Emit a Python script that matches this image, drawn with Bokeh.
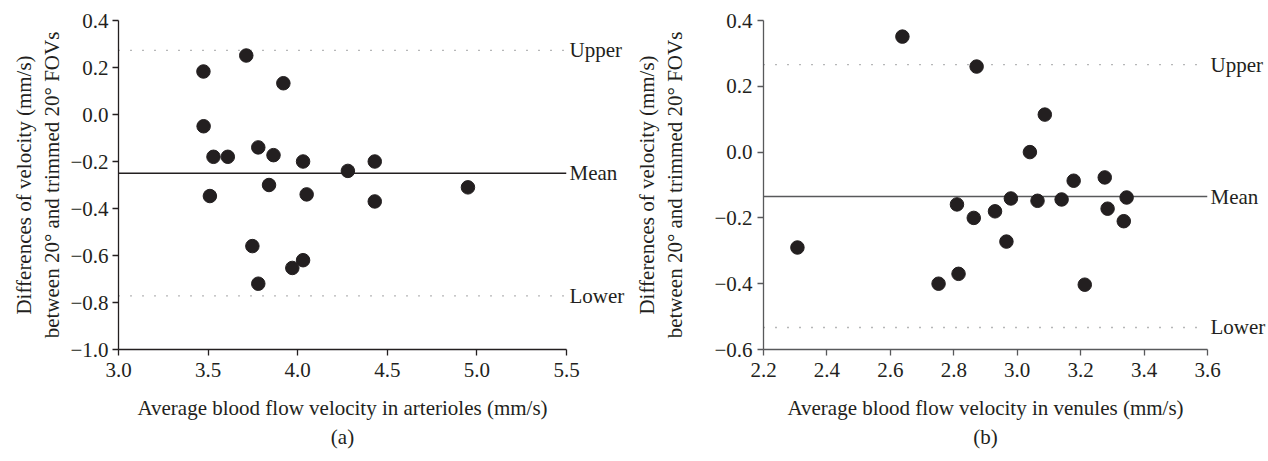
from bokeh.plotting import figure
from bokeh.layouts import row
from bokeh.models import (Range1d, FixedTicker, CustomJSTickFormatter, LinearAxis,
                          Title, ColumnDataSource)
from bokeh.embed import file_html
from bokeh.resources import INLINE

# ---------------- data ----------------
# (a) arterioles
art_mean_vel = [3.474, 3.713, 3.92, 3.475, 3.53, 3.61, 3.78, 3.865, 4.03, 4.43,
                4.28, 3.51, 3.84, 4.05, 4.43, 4.95, 3.747, 4.03, 3.97, 3.78]
art_diff = [0.183, 0.251, 0.133, -0.05, -0.18, -0.18, -0.14, -0.173, -0.20, -0.20,
            -0.24, -0.347, -0.30, -0.34, -0.37, -0.31, -0.56, -0.62, -0.653, -0.72]
limit_names = ["Upper", "Mean", "Lower"]
art_limits = [0.273, -0.25, -0.772]
art_xticks = [3.0, 3.5, 4.0, 4.5, 5.0, 5.5]
art_yticks = [-1.0, -0.8, -0.6, -0.4, -0.2, 0.0, 0.2, 0.4]

# (b) venules
ven_mean_vel = [2.638, 2.307, 2.752, 2.872, 3.087, 3.04, 3.178, 3.276, 2.98, 3.064,
                3.14, 3.345, 2.81, 2.863, 2.93, 3.285, 3.336, 2.966, 2.815, 3.213]
ven_diff = [0.351, -0.29, -0.40, 0.26, 0.114, 0.0, -0.087, -0.077, -0.141, -0.148,
            -0.144, -0.138, -0.159, -0.20, -0.18, -0.172, -0.21, -0.272, -0.37, -0.403]
ven_limits = [0.266, -0.135, -0.533]
ven_xticks = [2.2, 2.4, 2.6, 2.8, 3.0, 3.2, 3.4, 3.6]
ven_yticks = [-0.6, -0.4, -0.2, 0.0, 0.2, 0.4]

y_label = "Differences of velocity (mm/s)\nbetween 20\u00b0 and trimmed 20\u00b0 FOVs"
x_label_a = "Average blood flow velocity in arterioles (mm/s)"
x_label_b = "Average blood flow velocity in venules (mm/s)"

FONT = "Liberation Serif"
TXT = "#231f20"
FS = "21px"

fmt = CustomJSTickFormatter(code="return tick.toFixed(1).replace('-', '\\u2212');")


def make_panel(xs, ys, limits, xticks, yticks, xlabel, panel, width, left,
               right, top, axis_color, mean_color, ylab_standoff, ytick_standoff):
    p = figure(width=width, height=461, output_backend="svg", toolbar_location=None,
               x_range=Range1d(xticks[0], xticks[-1]),
               y_range=Range1d(yticks[0], yticks[-1]),
               min_border_left=left, min_border_right=right, min_border_top=top,
               min_border_bottom=461 - 349)
    p.outline_line_color = None
    p.xgrid.visible = False
    p.ygrid.visible = False
    p.background_fill_color = "white"
    p.border_fill_color = "white"

    for ax, ticks in ((p.xaxis[0], xticks), (p.yaxis[0], yticks)):
        ax.ticker = FixedTicker(ticks=ticks)
        ax.formatter = fmt
        ax.axis_line_color = axis_color
        ax.axis_line_width = 1.3
        ax.major_tick_line_color = axis_color
        ax.major_tick_line_width = 1.3
        ax.major_tick_out = 6
        ax.major_tick_in = 0
        ax.minor_tick_line_color = None
        ax.major_label_text_font = FONT
        ax.major_label_text_font_size = FS
        ax.major_label_text_color = TXT
        ax.axis_label_text_font = FONT
        ax.axis_label_text_font_size = FS
        ax.axis_label_text_font_style = "normal"
        ax.axis_label_text_color = TXT

    p.xaxis.axis_label = xlabel
    p.yaxis.axis_label = y_label
    p.xaxis.major_label_standoff = 7
    p.xaxis.axis_label_standoff = 16
    p.yaxis.major_label_standoff = ytick_standoff
    p.yaxis.axis_label_standoff = ylab_standoff

    # limit lines
    x0, x1 = xticks[0], xticks[-1]
    for name, val in zip(limit_names, limits):
        if name == "Mean":
            p.line([x0, x1], [val, val], line_color=mean_color, line_width=1.3)
        else:
            p.line([x0, x1], [val, val], line_color="#6d6e71", line_width=1.4,
                   line_dash="1 11")

    # names of the limit lines, as labels of a bare right-hand axis
    lim_axis = LinearAxis(
        ticker=FixedTicker(ticks=limits),
        formatter=CustomJSTickFormatter(
            args=dict(vals=limits, names=limit_names),
            code="for (let i = 0; i < vals.length; i++) {"
                 " if (Math.abs(tick - vals[i]) < 1e-9) return names[i]; }"
                 " return '';"),
        axis_line_color=None, major_tick_line_color=None,
        minor_tick_line_color=None, major_tick_out=0, major_tick_in=0,
        major_label_standoff=3, major_label_text_font=FONT,
        major_label_text_font_size=FS, major_label_text_color=TXT)
    p.add_layout(lim_axis, "right")

    src = ColumnDataSource(dict(x=xs, y=ys))
    p.scatter("x", "y", source=src, size=13.5, fill_color=TXT, line_color=TXT)

    t = Title(text=panel, align="center", text_font=FONT, text_font_size=FS,
              text_font_style="normal", text_color=TXT, standoff=0)
    p.add_layout(t, "below")
    return p


pa = make_panel(art_mean_vel, art_diff, art_limits, art_xticks, art_yticks,
                x_label_a, "(a)", 630, 118, 64, 19, "#231f20", "#231f20", 3, 4)
pb = make_panel(ven_mean_vel, ven_diff, ven_limits, ven_xticks, ven_yticks,
                x_label_b, "(b)", 638, 133, 61, 20, "#58595b", "#58595b", 24, 5)

layout = row(pa, pb)
open("out.html", "w").write(file_html(layout, INLINE))
